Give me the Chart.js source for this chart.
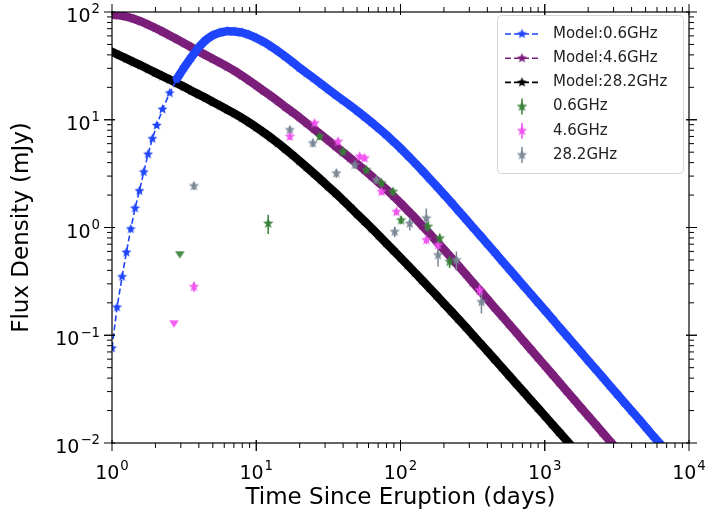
<!DOCTYPE html>
<html><head><meta charset="utf-8">
<script src="https://cdn.jsdelivr.net/npm/chart.js@4/dist/chart.umd.min.js"></script>
<style>html,body{margin:0;padding:0;background:#fff}canvas{display:block}</style>
</head><body>
<canvas id="c" width="706" height="521"></canvas>
<script>
// ---- time grid for the models (days) ----
const tModel = [1,1.122,1.259,1.413,1.585,1.778,1.995,2.239,2.512,2.818,
3.162,3.548,3.981,4.467,5.012,5.623,6.31,7.079,7.943,8.913,
10,11.22,12.59,14.13,15.85,17.78,19.95,22.39,25.12,28.18,
31.62,35.48,39.81,44.67,50.12,56.23,63.1,70.79,79.43,89.13,
100,112.2,125.9,141.3,158.5,177.8,199.5,223.9,251.2,281.8,
316.2,354.8,398.1,446.7,501.2,562.3,631,707.9,794.3,891.3,
1000,1122,1259,1413,1585,1778,1995,2239,2512,2818,
3162,3548,3981,4467,5012,5623,6310];
const tModel06 = [1,1.084,1.175,1.259,1.349,1.445,1.549,1.66,1.778,1.905,2.042,2.239,2.512].concat(tModel.slice(9));

// ---- model flux densities (mJy) ----
const fModel06 = [0.0759,0.182,0.349,0.589,0.968,1.51,2.19,3.27,4.79,6.67,8.85,12.5,17.7,
24.0,30.6,38.0,46.8,55.0,61.0,64.6,66.4,65.9,64.5,61.4,
57.5,53.0,48.2,43.4,38.7,34.4,30.4,27.1,24.2,21.5,
19.1,17.0,15.2,13.6,12.1,10.7,9.45,8.31,7.26,6.30,
5.45,4.66,3.98,3.38,2.86,2.42,2.04,1.72,1.44,1.21,
1.01,0.850,0.711,0.595,0.497,0.416,0.348,0.291,0.244,0.204,
0.171,0.143,0.119,0.0998,0.0835,0.0699,0.0584,0.0489,0.0409,0.0342,
0.0286,0.0239,0.0200,0.0168,0.0140,0.0117,0.00981];
const fModel46 = [94.4,93.2,90.5,86.6,81.7,76.4,71.0,65.7,60.6,55.8,
51.3,47.1,43.1,39.8,36.7,33.8,31.0,28.4,25.7,23.1,
20.8,18.6,16.7,14.9,13.2,11.8,10.5,9.27,8.21,7.26,
6.41,5.67,5.01,4.41,3.89,3.42,2.99,2.61,2.27,1.96,
1.69,1.44,1.23,1.04,0.882,0.745,0.627,0.528,0.443,0.372,
0.311,0.261,0.218,0.182,0.153,0.128,0.107,0.0893,0.0747,0.0625,
0.0523,0.0438,0.0366,0.0306,0.0256,0.0214,0.0179,0.0150,0.0125,0.0105,0.00878];
const fModel282 = [42.7,39.7,36.9,34.3,31.9,29.6,27.4,25.4,23.6,21.8,
20.2,18.6,17.2,15.9,14.6,13.5,12.4,11.4,10.4,9.45,
8.53,7.66,6.84,6.08,5.37,4.73,4.15,3.63,3.17,2.76,
2.40,2.08,1.80,1.55,1.33,1.145,0.982,0.841,0.719,0.615,
0.525,0.447,0.381,0.324,0.275,0.234,0.198,0.168,0.142,0.120,
0.101,0.0852,0.0718,0.0603,0.0507,0.0426,0.0358,0.0301,0.0253,0.0213,
0.0179,0.0150,0.0126,0.0106,0.00891];

// ---- observations ----
const t06 = [2.95,12.1,27.5,39.9,58,73.8,88.7,101,155,187,219];
const f06 = [0.564,1.09,6.98,5.06,3.42,2.58,2.15,1.17,1.02,0.794,0.481];
const e06 = [0,0.22,0.5,0.4,0.25,0.2,0.18,0.1,0.1,0.08,0.06];
const lim06 = [true,false,false,false,false,false,false,false,false,false,false];

const t46 = [2.69,3.70,17.1,25.4,36.9,52.1,56.5,73.8,93.7,151,182,354];
const f46 = [0.129,0.282,6.98,9.3,6.27,4.55,4.40,2.15,1.40,0.766,0.687,0.262];
const e46 = [0,0.03,0.5,0.6,0.45,0.3,0.3,0.15,0.1,0.06,0.06,0.03];
const lim46 = [true,false,false,false,false,false,false,false,false,false,false,false];

const t282 = [3.70,17.1,24.7,35.9,48.2,68.1,91.2,116,151,182,244,364];
const f282 = [2.43,8.05,6.07,3.19,3.81,2.76,0.914,1.09,1.22,0.555,0.499,0.204];
const e282 = [0.2,0.6,0.5,0.3,0.3,0.2,0.1,0.15,0.28,0.12,0.1,0.045];
const lim282 = [false,false,false,false,false,false,false,false,false,false,false,false];

// ---- tick labels: base and exponent ----
const xTickVals = [1,10,100,1000,10000];
const xTickExp = ['0','1','2','3','4'];
const yTickVals = [0.01,0.1,1,10,100];
const yTickExp = ['\u22122','\u22121','0','1','2'];

const C06='#1f45fc', C46='#7b1f7b', C282='#000000';
const D06='#357f35', D46='#f04ef0', D282='#778593';

function starImg(color, r, alpha, inner){
  const s = Math.ceil(r*2+2), c = document.createElement('canvas');
  c.width = c.height = s; const g = c.getContext('2d');
  g.globalAlpha = alpha==null?1:alpha; g.fillStyle = color; g.beginPath();
  for(let i=0;i<10;i++){const a=-Math.PI/2+i*Math.PI/5, rr=i%2?r*(inner||0.42):r; g.lineTo(s/2+rr*Math.cos(a), s/2+rr*Math.sin(a));}
  g.closePath(); g.fill(); return c;
}
function triImg(color, r, alpha){
  const s = Math.ceil(r*2+2), c = document.createElement('canvas');
  c.width = c.height = s; const g = c.getContext('2d');
  g.globalAlpha = alpha==null?1:alpha; g.fillStyle = color; g.beginPath();
  g.moveTo(s/2-r, s/2-r*0.6); g.lineTo(s/2+r, s/2-r*0.6); g.lineTo(s/2, s/2+r*0.9); g.closePath(); g.fill(); return c;
}
const pts = (t,f)=>f.map((v,i)=>({x:t[i],y:v}));

function modelDs(label, t, f, color, order, bandFrom){
  const dense = c => c.p0DataIndex >= bandFrom;
  return {label, data: pts(t,f), showLine:true, borderColor:color, backgroundColor:color,
    borderWidth:1.6, borderDash:[6,3], borderJoinStyle:'round',
    segment:{
      borderWidth: c => dense(c) ? 8.5 : 1.6,
      borderDash: c => dense(c) ? [] : [6,3],
      borderCapStyle: c => dense(c) ? 'round' : 'butt'
    },
    pointStyle: starImg(color,5.2,1,0.45), pointRadius:5, pointHoverRadius:5,
    order, isModel:true, mColor:color};
}
function obsDs(label, t, f, e, lim, color){
  const star = starImg(color,5.5,0.9,0.45), tri = triImg(color,4.8,0.9);
  return {label, data: pts(t,f), showLine:false, borderColor:color, backgroundColor:color,
    pointStyle: lim.map(l=>l?tri:star), pointRadius:5, order:0, errors:e, mColor:color, mImg:star};
}

const datasets = [
  modelDs('Model:0.6GHz', tModel06, fModel06, C06, 1, 13),
  modelDs('Model:4.6GHz', tModel, fModel46, C46, 2, 0),
  modelDs('Model:28.2GHz', tModel, fModel282, C282, 3, 0),
  obsDs('0.6GHz', t06, f06, e06, lim06, D06),
  obsDs('4.6GHz', t46, f46, e46, lim46, D46),
  obsDs('28.2GHz', t282, f282, e282, lim282, D282)
];

const errorBars = {id:'errorBars', beforeDatasetDraw(chart,args){
  const ds = chart.data.datasets[args.index]; if(!ds.errors) return;
  const {ctx, scales:{x,y}} = chart; ctx.save(); ctx.strokeStyle = ds.mColor; ctx.lineWidth = 1.5;
  ds.data.forEach((p,j)=>{const e=ds.errors[j]; if(!e) return; const px=x.getPixelForValue(p.x);
    ctx.beginPath(); ctx.moveTo(px, y.getPixelForValue(p.y+e)); ctx.lineTo(px, y.getPixelForValue(Math.max(p.y-e,1e-4))); ctx.stroke();});
  ctx.restore();
}};

const frameTicks = {id:'frameTicks', afterDatasetsDraw(chart){
  const {ctx, chartArea:a, scales:{x,y}} = chart;
  ctx.save(); ctx.strokeStyle='#000';
  const seg=(x1,y1,x2,y2)=>{ctx.beginPath();ctx.moveTo(x1,y1);ctx.lineTo(x2,y2);ctx.stroke();};
  ctx.lineWidth=1;
  for(let d=0; d<4; d++) for(let m=1;m<=10;m++){
    const px = x.getPixelForValue(m*Math.pow(10,d)); const major = (m===1||m===10);
    const o = major?8:5, i = major?3:0;
    seg(px,a.bottom-i,px,a.bottom+o); seg(px,a.top+i,px,a.top-o);
  }
  for(let d=-2; d<2; d++) for(let m=1;m<=10;m++){
    const py = y.getPixelForValue(m*Math.pow(10,d)); const major = (m===1||m===10);
    const o = major?8:5, i = major?3:0;
    seg(a.left+i,py,a.left-o,py); seg(a.right-i,py,a.right+o,py);
  }
  ctx.lineWidth=1.2; ctx.strokeRect(a.left,a.top,a.right-a.left,a.bottom-a.top);

  // power-of-ten tick labels (base "10" with raised exponent)
  const S = 19, fam = '"DejaVu Sans", sans-serif';
  const label = (cx, baseY, exp, align) => {
    ctx.font = S+'px '+fam; const wb = ctx.measureText('10').width;
    ctx.font = (S*0.7)+'px '+fam; const we = ctx.measureText(exp).width;
    const w = wb + we + 1; const x0 = align==='right' ? cx - w : cx - w/2;
    ctx.fillStyle = '#000'; ctx.textAlign='left'; ctx.textBaseline='alphabetic';
    ctx.font = S+'px '+fam; ctx.fillText('10', x0, baseY);
    ctx.font = (S*0.7)+'px '+fam; ctx.fillText(exp, x0 + wb + 1, baseY - S*0.45);
  };
  xTickVals.forEach((v,i)=> label(x.getPixelForValue(v), a.bottom + 36, xTickExp[i], 'center'));
  yTickVals.forEach((v,i)=> label(a.left - 12, y.getPixelForValue(v) + 10, yTickExp[i], 'right'));
  ctx.restore();
}};

const legendBox = {id:'legendBox', afterDatasetsDraw(chart){
  const ctx = chart.ctx; ctx.save();
  const bx=497.5, by=15.5, bw=186, bh=158, r=4;
  ctx.beginPath(); ctx.moveTo(bx+r,by); ctx.lineTo(bx+bw-r,by); ctx.quadraticCurveTo(bx+bw,by,bx+bw,by+r);
  ctx.lineTo(bx+bw,by+bh-r); ctx.quadraticCurveTo(bx+bw,by+bh,bx+bw-r,by+bh); ctx.lineTo(bx+r,by+bh);
  ctx.quadraticCurveTo(bx,by+bh,bx,by+bh-r); ctx.lineTo(bx,by+r); ctx.quadraticCurveTo(bx,by,bx+r,by); ctx.closePath();
  ctx.fillStyle='rgba(255,255,255,0.85)'; ctx.fill(); ctx.strokeStyle='#d6d6d6'; ctx.lineWidth=1; ctx.stroke();
  ctx.font='15px "DejaVu Sans"'; ctx.textBaseline='middle'; ctx.textAlign='left';
  chart.data.datasets.forEach((ds,i)=>{
    const yy = 34 + i*24.2, mx = 522;
    if(ds.isModel){
      ctx.strokeStyle=ds.mColor; ctx.lineWidth=1.6; ctx.setLineDash([6,3]);
      ctx.beginPath(); ctx.moveTo(505,yy); ctx.lineTo(539,yy); ctx.stroke(); ctx.setLineDash([]);
      const im = ds.pointStyle; ctx.drawImage(im, mx-im.width/2, yy-im.height/2);
    } else {
      ctx.strokeStyle=ds.mColor; ctx.lineWidth=1.5; ctx.beginPath(); ctx.moveTo(mx,yy-8); ctx.lineTo(mx,yy+8); ctx.stroke();
      const im = ds.mImg; ctx.drawImage(im, mx-im.width/2, yy-im.height/2);
    }
    ctx.fillStyle='#222'; ctx.fillText(ds.label, 553, yy);
  });
  ctx.restore();
}};

Chart.defaults.font.family = '"DejaVu Sans", sans-serif';
new Chart(document.getElementById('c'), {
  type:'scatter',
  data:{datasets},
  options:{
    responsive:false, devicePixelRatio:1, animation:false, events:[],
    layout:{padding:{top:12, right:17, left:0, bottom:0}},
    plugins:{legend:{display:false}, tooltip:{enabled:false}},
    scales:{
      x:{type:'logarithmic', min:1, max:10000,
        afterBuildTicks:s=>{s.ticks = xTickVals.map(v=>({value:v}));},
        afterFit:s=>{s.height = 78; s.paddingLeft = 0; s.paddingRight = 0;},
        grid:{display:false, drawTicks:false}, border:{display:false},
        ticks:{display:false},
        title:{display:true, text:'Time Since Eruption (days)', color:'#000', font:{size:23}, padding:{top:0,bottom:9}}
      },
      y:{type:'logarithmic', min:0.01, max:100,
        afterBuildTicks:s=>{s.ticks = yTickVals.map(v=>({value:v}));},
        afterFit:s=>{s.width = 112; s.paddingTop = 0; s.paddingBottom = 0;},
        grid:{display:false, drawTicks:false}, border:{display:false},
        ticks:{display:false},
        title:{display:true, text:'Flux Density (mJy)', color:'#000', font:{size:23}, padding:{top:8,bottom:0}}
      }
    }
  },
  plugins:[errorBars, frameTicks, legendBox]
});
</script>
</body></html>
